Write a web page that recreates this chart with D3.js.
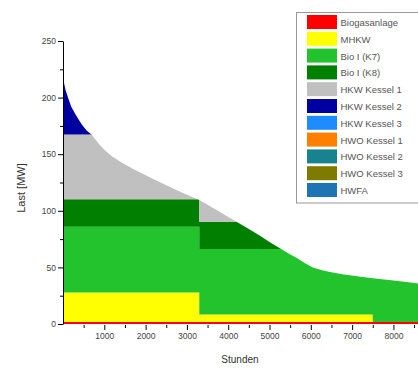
<!DOCTYPE html>
<html>
<head>
<meta charset="utf-8">
<script src="https://cdn.jsdelivr.net/npm/d3@7"></script>
<style>
  html, body { margin: 0; padding: 0; background: #fff; }
  svg { display: block; font-family: "Liberation Sans", Arial, sans-serif; }
</style>
</head>
<body>
<svg id="chart" width="418" height="368"></svg>
<script>
// Jahresdauerlinie der Wärmelast (Stunden, MW)
const hours  = [0, 60, 121, 200, 290, 370, 460, 570, 700, 850, 1000, 1190, 1400, 1700, 2000, 2300, 2590, 2850, 3075, 3300, 3750, 4210, 4500, 4770, 5000, 5250, 5450, 5670, 5850, 6050, 6250, 6460, 6800, 7260, 7500, 8000, 8570, 8760];
const loadMW = [217, 207, 200, 192, 186, 181, 176, 171, 167, 160, 154, 148, 143, 137, 131.5, 126, 121, 116.5, 113, 109.5, 100, 90, 84, 78, 72.5, 67, 62.5, 58, 53.8, 50, 47.8, 46, 43.8, 41.5, 40.5, 38.5, 36, 35];

// Betriebsabschnitte (Grenzen in Stunden)
const segmentBreaks = [3300, 7500];

// Erzeuger in Einsatzreihenfolge
const unitNames = ["Biogasanlage", "MHKW", "Bio I (K7)", "Bio I (K8)", "HKW Kessel 1", "HKW Kessel 2", "HKW Kessel 3", "HWO Kessel 1", "HWO Kessel 2", "HWO Kessel 3", "HWFA"];
const unitColors = ["#ff0000", "#ffff00", "#22c32c", "#007f00", "#c0c0c0", "#0000a0", "#1e8cff", "#ff8000", "#17838e", "#7f7a00", "#1f74b4"];
// Leistung je Abschnitt [MW]
const capBiogas = [1.8, 1.8, 1.8];
const capMHKW   = [26, 6.5, 0];
const capK7     = [58, 58, 58];
const capK8     = [24.5, 24, 24];
const capHKW1   = [57, 57, 57];
const capHKW2   = [120, 120, 120];
const capHKW3   = [0, 0, 0];
const capHWO1   = [0, 0, 0];
const capHWO2   = [0, 0, 0];
const capHWO3   = [0, 0, 0];
const capHWFA   = [0, 0, 0];
const capacities = [capBiogas, capMHKW, capK7, capK8, capHKW1, capHKW2, capHKW3, capHWO1, capHWO2, capHWO3, capHWFA];

const yTicks = [0, 50, 100, 150, 200, 250];
const yMinorTicks = [25, 75, 125, 175, 225];
const xTicks = [1000, 2000, 3000, 4000, 5000, 6000, 7000, 8000];
const xMinorTicks = [500, 1500, 2500, 3500, 4500, 5500, 6500, 7500, 8500];

const svg = d3.select("#chart");
const x = d3.scaleLinear().domain([0, 8760]).range([63, 424.8]);
const y = d3.scaleLinear().domain([0, 250]).range([324, 41]);
const loadAt = d3.scaleLinear().domain(hours).range(loadMW);

const segBounds = [0, ...segmentBreaks, 8760];
const segOf = h => d3.bisectRight(segmentBreaks, h);

// Stützstellen: Messpunkte plus Schnittpunkte der Last mit den Leistungsstufen
const sampleHours = new Set(hours);
for (let s = 0; s < segBounds.length - 1; s++) {
  const a = segBounds[s], b = segBounds[s + 1];
  const thresholds = d3.cumsum(capacities.map(c => c[s]));
  for (let i = 0; i < hours.length - 1; i++) {
    const h0 = Math.max(hours[i], a), h1 = Math.min(hours[i + 1], b);
    if (h1 <= h0) continue;
    const l0 = loadAt(h0), l1 = loadAt(h1);
    thresholds.forEach(t => {
      if ((t - l0) * (t - l1) < 0) sampleHours.add(h0 + (t - l0) / (l1 - l0) * (h1 - h0));
    });
  }
}
const samples = [];
Array.from(sampleHours).sort((p, q) => p - q).forEach(h => {
  const bi = segmentBreaks.indexOf(h);
  if (bi >= 0) {
    samples.push({ h, seg: bi, load: loadAt(h) });
    samples.push({ h, seg: bi + 1, load: loadAt(h) });
  } else {
    samples.push({ h, seg: segOf(h), load: loadAt(h) });
  }
});

// Einsatz der Erzeuger nach Reihenfolge
const layers = unitNames.map(() => []);
samples.forEach(p => {
  let base = 0;
  capacities.forEach((cap, i) => {
    const v = Math.max(0, Math.min(cap[p.seg], p.load - base));
    layers[i].push({ h: p.h, y0: base, y1: base + v });
    base += v;
  });
});

const area = d3.area().x(d => x(d.h)).y0(d => y(d.y0)).y1(d => y(d.y1));
const plot = svg.append("g");
layers.forEach((layer, i) => {
  if (!layer.some(d => d.y1 > d.y0)) return;
  plot.append("path")
    .datum(layer)
    .attr("d", area)
    .attr("fill", unitColors[i]);
});

// Achsen
const gy = svg.append("g").attr("transform", "translate(63,0)");
gy.call(d3.axisLeft(y).tickValues(yTicks).tickSize(5).tickSizeOuter(0).tickPadding(2));
gy.append("g").call(d3.axisLeft(y).tickValues(yMinorTicks).tickSize(3).tickFormat(""))
  .select(".domain").remove();
gy.select(".domain").attr("stroke", "#000");
gy.selectAll(".tick text").attr("font-size", 8.5).attr("fill", "#444");

const gx = svg.append("g").attr("transform", "translate(0,325)");
gx.call(d3.axisBottom(x).tickValues(xTicks).tickFormat(d3.format("d")).tickSize(5).tickPadding(3));
gx.select(".domain").remove();
gx.append("g").call(d3.axisBottom(x).tickValues(xMinorTicks).tickSize(3).tickFormat(""))
  .select(".domain").remove();
gx.selectAll(".tick text").attr("font-size", 8.5).attr("fill", "#444");

svg.append("text")
  .attr("transform", "translate(25,188) rotate(-90)")
  .attr("text-anchor", "middle")
  .attr("font-size", 11)
  .attr("fill", "#333")
  .text("Last [MW]");

svg.append("text")
  .attr("x", 240).attr("y", 363)
  .attr("text-anchor", "middle")
  .attr("font-size", 10)
  .attr("fill", "#333")
  .text("Stunden");

// Legende
const legend = svg.append("g").attr("transform", "translate(296.5,12.5)");
legend.append("rect")
  .attr("width", 160).attr("height", 190.5)
  .attr("fill", "#fff").attr("stroke", "#999").attr("stroke-width", 1);
unitNames.forEach((name, i) => {
  const row = legend.append("g").attr("transform", `translate(10.5,${2.5 + i * 16.8})`);
  row.append("rect").attr("width", 30).attr("height", 14).attr("fill", unitColors[i]);
  row.append("text").attr("x", 33.5).attr("y", 11).attr("font-size", 9.5).attr("fill", "#555").text(name);
});
</script>
</body>
</html>
